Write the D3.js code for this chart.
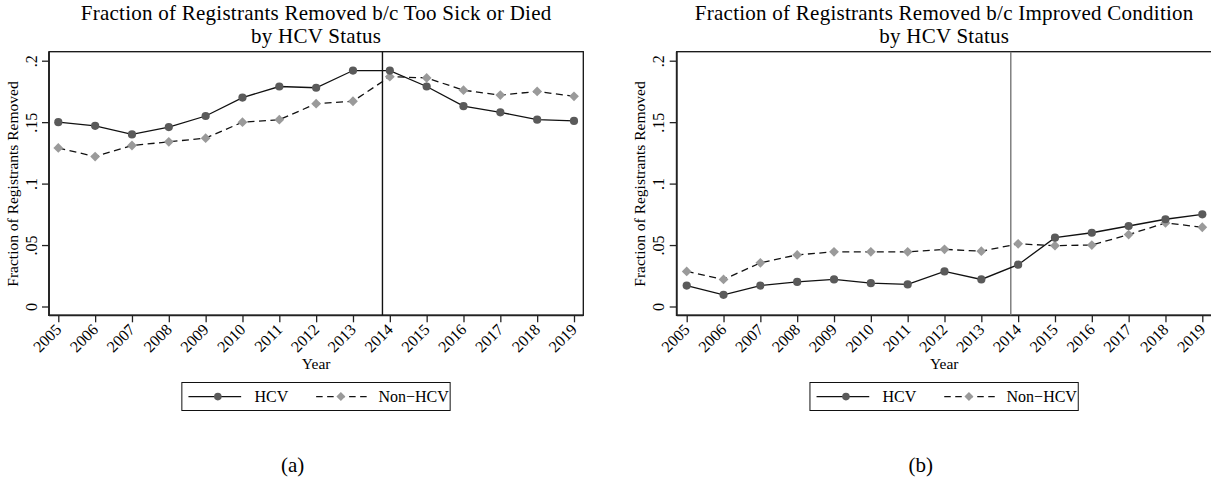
<!DOCTYPE html>
<html>
<head>
<meta charset="utf-8">
<script src="https://cdn.jsdelivr.net/npm/d3@7"></script>
<style>
  html, body { margin: 0; padding: 0; background: #fff; }
  svg { display: block; }
  text { font-family: "Liberation Serif", "Times New Roman", serif; fill: #000; }
</style>
</head>
<body>
<svg id="chart" width="1211" height="479"></svg>
<script>
// Registry removal fractions by year and HCV status
const years = [2005, 2006, 2007, 2008, 2009, 2010, 2011, 2012, 2013, 2014, 2015, 2016, 2017, 2018, 2019];

// (a) removed because too sick or died
const sickHCV    = [0.150, 0.147, 0.140, 0.146, 0.155, 0.170, 0.179, 0.178, 0.192, 0.192, 0.179, 0.163, 0.158, 0.152, 0.151];
const sickNonHCV = [0.129, 0.122, 0.131, 0.134, 0.137, 0.150, 0.152, 0.165, 0.167, 0.187, 0.186, 0.176, 0.172, 0.175, 0.171];

// (b) removed because condition improved
const improvedHCV    = [0.017, 0.0095, 0.017, 0.020, 0.022, 0.019, 0.018, 0.0285, 0.022, 0.034, 0.056, 0.060, 0.0655, 0.071, 0.075];
const improvedNonHCV = [0.0285, 0.022, 0.0355, 0.042, 0.0445, 0.0445, 0.0445, 0.0465, 0.045, 0.051, 0.0495, 0.050, 0.0585, 0.068, 0.0645];

const yTickValues = [0, 0.05, 0.1, 0.15, 0.2];
const yTickLabels = ["0", ".05", ".1", ".15", ".2"];
const seriesNames = ["HCV", "Non\u2212HCV"];
const policyYear = 2013.8;

const svg = d3.select("#chart");

const panels = [
  {
    title: ["Fraction of Registrants Removed b/c Too Sick or Died", "by HCV Status"],
    hcv: sickHCV, non: sickNonHCV, caption: "(a)",
    frameL: 49, frameR: 583.3, xr: [58.3, 574], vColor: "#111"
  },
  {
    title: ["Fraction of Registrants Removed b/c Improved Condition", "by HCV Status"],
    hcv: improvedHCV, non: improvedNonHCV, caption: "(b)",
    frameL: 676.7, frameR: 1211.8, xr: [686.7, 1202.3], vColor: "#777"
  }
];

const frameT = 51.7, frameB = 315.3;
const yRange = [306.5, 60.7];
const fs = 15.5;
const tickFs = 16;

function diamond(g, cx, cy, r, fill) {
  g.append("path")
    .attr("d", `M${cx},${cy - r}L${cx + r},${cy}L${cx},${cy + r}L${cx - r},${cy}Z`)
    .attr("fill", fill);
}

panels.forEach(p => {
  const g = svg.append("g");
  const x = d3.scaleLinear().domain([years[0], years[years.length - 1]]).range(p.xr);
  const y = d3.scaleLinear().domain([yTickValues[0], yTickValues[yTickValues.length - 1]]).range(yRange);
  const cx = (p.frameL + p.frameR) / 2;

  // two-line title
  g.append("text").attr("x", cx).attr("y", 19.6).attr("text-anchor", "middle")
    .style("font-size", "21px").style("letter-spacing", "0.25px").text(p.title[0]);
  g.append("text").attr("x", cx).attr("y", 43).attr("text-anchor", "middle")
    .style("font-size", "21px").style("letter-spacing", "0.25px").text(p.title[1]);

  // plot frame
  g.append("rect").attr("x", p.frameL).attr("y", frameT)
    .attr("width", p.frameR - p.frameL).attr("height", frameB - frameT)
    .attr("fill", "none").attr("stroke", "#111").attr("stroke-width", 1.3);

  // y axis
  const yAxis = g.append("g").attr("transform", `translate(${p.frameL},0)`)
    .call(d3.axisLeft(y).tickValues(yTickValues).tickSize(7)
      .tickFormat((d, i) => yTickLabels[i]));
  yAxis.select(".domain").remove();
  yAxis.selectAll(".tick line").attr("stroke", "#222").attr("stroke-width", 1.3);
  yAxis.selectAll(".tick text")
    .attr("x", null).attr("dy", null)
    .attr("transform", "translate(-12.5,0) rotate(-90)")
    .attr("text-anchor", "middle")
    .style("font-size", tickFs + "px")
    .style("font-family", "'Liberation Serif', serif");

  // x axis
  const xAxis = g.append("g").attr("transform", `translate(0,${frameB})`)
    .call(d3.axisBottom(x).tickValues(years).tickSize(7).tickFormat(d3.format("d")));
  xAxis.select(".domain").remove();
  xAxis.selectAll(".tick line").attr("stroke", "#222").attr("stroke-width", 1.3);
  xAxis.selectAll(".tick text")
    .attr("y", null).attr("dy", null)
    .attr("transform", "translate(3.5,15.3) rotate(-45)")
    .attr("text-anchor", "end")
    .style("font-size", tickFs + "px")
    .style("font-family", "'Liberation Serif', serif");

  // heavier axis lines on left and bottom
  g.append("line").attr("x1", p.frameL).attr("x2", p.frameL).attr("y1", frameT).attr("y2", frameB + 0.8)
    .attr("stroke", "#222").attr("stroke-width", 1.8);
  g.append("line").attr("x1", p.frameL).attr("x2", p.frameR).attr("y1", frameB).attr("y2", frameB)
    .attr("stroke", "#222").attr("stroke-width", 1.8);

  // axis titles
  g.append("text").attr("transform", `translate(${p.frameL - 31.5},${(frameT + frameB) / 2 + 0.5}) rotate(-90)`)
    .attr("text-anchor", "middle").style("font-size", fs + "px").text("Fraction of Registrants Removed");
  g.append("text").attr("x", cx).attr("y", 369).attr("text-anchor", "middle")
    .style("font-size", fs + "px").text("Year");

  // policy-year reference line
  g.append("line").attr("x1", x(policyYear)).attr("x2", x(policyYear))
    .attr("y1", frameT).attr("y2", frameB)
    .attr("stroke", p.vColor).attr("stroke-width", 1.4);

  // series lines
  const line = d3.line().x((d, i) => x(years[i])).y(d => y(d));
  g.append("path").datum(p.non).attr("d", line).attr("fill", "none")
    .attr("stroke", "#111").attr("stroke-width", 1.3).attr("stroke-dasharray", "7,4.5");
  g.append("path").datum(p.hcv).attr("d", line).attr("fill", "none")
    .attr("stroke", "#111").attr("stroke-width", 1.3);

  // markers
  p.non.forEach((v, i) => diamond(g, x(years[i]), y(v), 4.9, "#9a9a9a"));
  g.selectAll("circle.hcv").data(p.hcv).enter().append("circle")
    .attr("class", "hcv")
    .attr("cx", (d, i) => x(years[i])).attr("cy", d => y(d)).attr("r", 4.1)
    .attr("fill", "#5a5a5a");

  // legend
  const lg = g.append("g").attr("transform", `translate(${cx},0)`);
  lg.append("rect").attr("x", -134.3).attr("y", 382.5).attr("width", 268.3).attr("height", 28)
    .attr("fill", "#fff").attr("stroke", "#111").attr("stroke-width", 1);
  const ly = 396.6;
  lg.append("line").attr("x1", -127.7).attr("x2", -75).attr("y1", ly).attr("y2", ly)
    .attr("stroke", "#111").attr("stroke-width", 1.3);
  lg.append("circle").attr("cx", -98.3).attr("cy", ly).attr("r", 3.8).attr("fill", "#5a5a5a");
  lg.append("text").attr("x", -61.7).attr("y", 402).style("font-size", "16px").text(seriesNames[0]);
  lg.append("line").attr("x1", 0).attr("x2", 53.3).attr("y1", ly).attr("y2", ly)
    .attr("stroke", "#111").attr("stroke-width", 1.3).attr("stroke-dasharray", "6.5,4.5");
  diamond(lg, 24.7, ly, 4.5, "#9a9a9a");
  lg.append("text").attr("x", 62.3).attr("y", 402).style("font-size", "16px").text(seriesNames[1]);

  // panel caption
  g.append("text").attr("x", cx - 23.5).attr("y", 472).attr("text-anchor", "middle")
    .style("font-size", "21px").text(p.caption);
});
</script>
</body>
</html>
